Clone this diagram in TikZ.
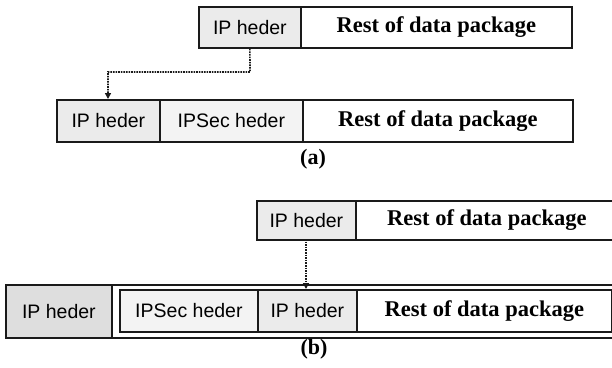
\documentclass[tikz,border=0pt]{standalone}
\usepackage{fontspec}
\setmainfont{Liberation Serif}
\setsansfont{Liberation Sans}
\usetikzlibrary{arrows.meta}
\definecolor{hdrgray}{HTML}{EBEBEB}
\definecolor{secgray}{HTML}{F3F3F3}
\definecolor{outgray}{HTML}{DEDEDE}
\definecolor{linegray}{HTML}{1A1A1A}
\tikzset{
  cell/.style={draw=linegray, line width=1.8pt, rectangle, inner sep=0pt, anchor=north west},
  sanslbl/.style={font=\sffamily\fontsize{19.5}{22}\selectfont},
  seriflbl/.style={font=\bfseries\fontsize{22.5}{24}\selectfont},
  caplbl/.style={font=\bfseries\fontsize{22}{24}\selectfont},
  dotline/.style={densely dotted, line width=1.6pt, draw=linegray, -{Triangle[length=6pt,width=6pt]}},
}
\begin{document}
\begin{tikzpicture}[x=1pt, y=-1pt]
\useasboundingbox (0,0) rectangle (612,367);
% (a) row 1
\node[cell, fill=hdrgray, minimum width=102pt, minimum height=41pt, sanslbl] (a1h) at (198,6) {IP heder};
\node[cell, fill=white, minimum width=271pt, minimum height=41pt, seriflbl] (a1r) at (300,6) {Rest of data package};
% (a) row 2
\node[cell, fill=hdrgray, minimum width=103pt, minimum height=42pt, sanslbl] (a2h) at (56,99) {IP heder};
\node[cell, fill=secgray, minimum width=143pt, minimum height=42pt, sanslbl] (a2s) at (159,99) {IPSec heder};
\node[cell, fill=white, minimum width=270pt, minimum height=42pt, seriflbl] (a2r) at (302,99) {Rest of data package};
\node[caplbl] (capa) at (313,159) {(a)};
\coordinate (ta) at (250,72);
\coordinate (tb) at (108,72);
\draw[dotline] (a1h.south) -- (ta) -- (tb) -- (tb |- a2h.north);
% (b) row 1
\node[cell, fill=hdrgray, minimum width=99pt, minimum height=39pt, sanslbl] (b1h) at (256,200) {IP heder};
\node[cell, fill=white, minimum width=262pt, minimum height=39pt, seriflbl] (b1r) at (355,200) {Rest of data package};
% (b) outer
\node[cell, fill=white, minimum width=620pt, minimum height=53pt] (bout) at (5,284) {};
\node[cell, fill=outgray, minimum width=106pt, minimum height=53pt, sanslbl] (boh) at (5,284) {IP heder};
% (b) inner
\node[cell, fill=secgray, minimum width=138pt, minimum height=42pt, sanslbl] (bis) at (119,289) {IPSec heder};
\node[cell, fill=hdrgray, minimum width=99pt, minimum height=42pt, sanslbl] (bih) at (257,289) {IP heder};
\node[cell, fill=white, minimum width=255pt, minimum height=42pt, seriflbl] (bir) at (356,289) {Rest of data package};
\node[caplbl] (capb) at (314,349) {(b)};
\coordinate (bs) at (306,239);
\draw[dotline] (bs) -- (bs |- bis.north);
\end{tikzpicture}
\end{document}
